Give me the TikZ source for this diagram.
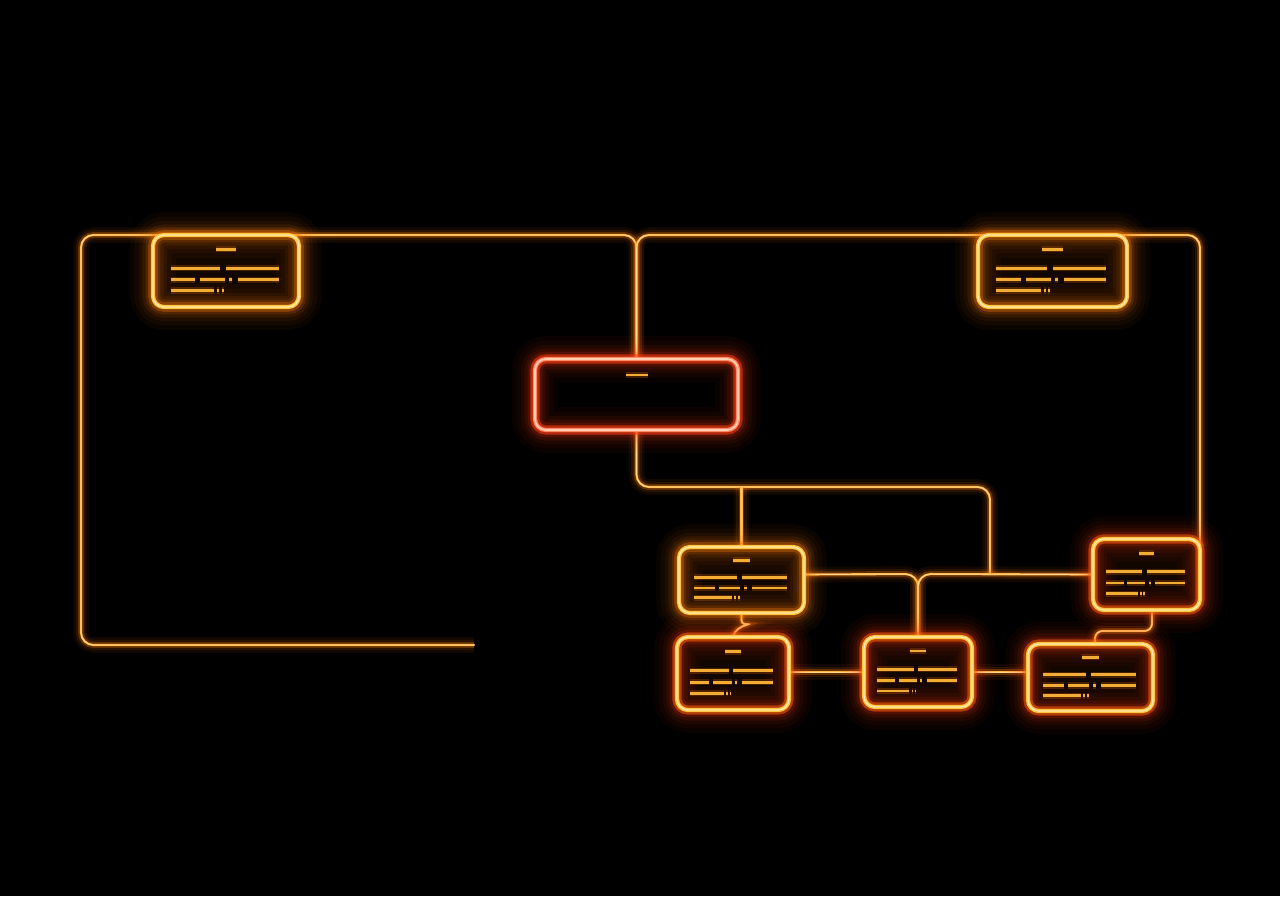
\documentclass[tikz,border=0pt]{standalone}
\usetikzlibrary{calc}
\pgfdeclarelayer{bg}
\pgfdeclarelayer{lines}
\pgfsetlayers{bg,lines,main}
\definecolor{lineC}{HTML}{FFB347}
\definecolor{lineW}{HTML}{FFD890}
\definecolor{glowO}{HTML}{FF7A00}
\definecolor{glowR}{HTML}{FF3A10}
\definecolor{coreY}{HTML}{FFC440}
\definecolor{coreW}{HTML}{FFE9B0}
\definecolor{coreR}{HTML}{FF8868}
\definecolor{coreRW}{HTML}{FFD0B0}
\definecolor{boxfill}{HTML}{120600}
\definecolor{txtC}{HTML}{F2AE34}
\newcommand\boxtext[3]{%
\begin{scope}[shift={(#1.north west)}]
 \draw[txt] ({0.43*#2},{0.2*#3}) -- ({0.57*#2},{0.2*#3})
  ({0.12*#2},{0.46*#3}) -- ({0.46*#2},{0.46*#3})
  ({0.50*#2},{0.46*#3}) -- ({0.86*#2},{0.46*#3})
  ({0.12*#2},{0.62*#3}) -- ({0.29*#2},{0.62*#3})
  ({0.32*#2},{0.62*#3}) -- ({0.49*#2},{0.62*#3})
  ({0.52*#2},{0.62*#3}) -- ({0.54*#2},{0.62*#3})
  ({0.58*#2},{0.62*#3}) -- ({0.86*#2},{0.62*#3})
  ({0.12*#2},{0.77*#3}) -- ({0.42*#2},{0.77*#3})
  ({0.44*#2},{0.77*#3}) -- ({0.455*#2},{0.77*#3})
  ({0.47*#2},{0.77*#3}) -- ({0.485*#2},{0.77*#3});
\end{scope}}
\begin{document}
\begin{tikzpicture}[x=0.02cm,y=-0.02cm,
  bsize/.style 2 args={minimum width={#1*0.02cm}, minimum height={#2*0.02cm}},
  conn/.style={draw=lineC, line width=1.2pt, line cap=round, rounded corners=0.25cm,
    preaction={draw=glowO, line width=9pt, opacity=0.06},
    preaction={draw=glowO, line width=6pt, opacity=0.10},
    preaction={draw=glowO, line width=3.4pt, opacity=0.28},
    postaction={draw=lineW, line width=0.5pt}},
  basebox/.style={rectangle, rounded corners=0.22cm, inner sep=0pt, outer sep=0pt},
  glowlayers/.style={
    preaction={draw=#1, line width=26pt, opacity=0.035},
    preaction={draw=#1, line width=21pt, opacity=0.045},
    preaction={draw=#1, line width=16pt, opacity=0.06},
    preaction={draw=#1, line width=12pt, opacity=0.09},
    preaction={draw=#1, line width=8.5pt, opacity=0.14},
    preaction={draw=#1, line width=5.5pt, opacity=0.3}},
  ybox/.style={basebox,
    preaction={fill=boxfill}, glowlayers=glowO,
    draw=coreY, line width=2.4pt,
    postaction={draw=coreW, line width=0.8pt}},
  rbox/.style={basebox,
    preaction={fill=boxfill}, glowlayers=glowR,
    preaction={draw=glowO, line width=5pt, opacity=0.35},
    draw=coreY, line width=2.4pt,
    postaction={draw=coreW, line width=0.8pt}},
  cbox/.style={basebox,
    preaction={fill=black}, glowlayers=glowR,
    preaction={draw=glowR, line width=5pt, opacity=0.4},
    draw=coreR, line width=2.4pt,
    postaction={draw=coreRW, line width=0.9pt}},
  txt/.style={draw=txtC, line width=1.6pt,
    preaction={draw=glowO, line width=3.5pt, opacity=0.22}}]

\begin{pgfonlayer}{bg}
\fill[black] (0,0) rectangle (1280,896);
\end{pgfonlayer}
\useasboundingbox (0,0) rectangle (1280,896);

% boxes
\node[ybox, bsize={146}{72}] (A) at (226,271) {};
\node[ybox, bsize={149}{72}] (B) at (1052.5,271) {};
\node[cbox, bsize={203}{71}] (C) at (636.5,394.5) {};
\node[ybox, bsize={125}{66}] (D) at (741.5,580) {};
\node[rbox, bsize={107}{71}] (E) at (1146.5,574.5) {};
\node[rbox, bsize={112}{73}] (F) at (733,673.5) {};
\node[rbox, bsize={108}{70}] (G) at (918,672) {};
\node[rbox, bsize={125}{67}] (H) at (1090.5,677.5) {};

% placeholder text lines
\boxtext{A}{146}{72}
\boxtext{B}{149}{72}
\boxtext{D}{125}{66}
\boxtext{E}{107}{71}
\boxtext{F}{112}{73}
\boxtext{G}{108}{70}
\boxtext{H}{125}{67}
\begin{scope}[shift={(C.north west)}]
\draw[txt] (91,16) -- (113,16);
\end{scope}

% connectors
\begin{pgfonlayer}{lines}
\coordinate (lend) at (474,645);
\coordinate (tj) at (636.5,235);
\coordinate (j1) at (990,574);
\coordinate (j2) at (741.5,487);
\coordinate (j3) at (918,574);
\draw[conn] (lend) -- (81,645) -- (81,235) -- (tj) -- (C.north);
\draw[conn] (C.north) -- (tj) -- (1200,235) -- ([yshift=-4pt]E.north east);
\draw[conn] (C.south) -- (636.5,487) -- (990,487) -- (j1);
\draw[conn] (j2) -- (D.north);
\draw[conn] (D.east |- E.west) -- (j3) -- (G.north);
\draw[conn] (G.north) -- (j3) -- (E.west);
\draw[conn, rounded corners=2pt] (D.south) -- (741.5,624) -- (750,624) .. controls (742,626) and (734,630) .. (F.north);
\draw[conn, rounded corners=0.15cm] ([xshift=0.11cm]E.south) -- (1152,631) -- (1095,631) -- ([xshift=0.09cm]H.north);
\draw[conn] (F.east |- G.west) -- (G.west);
\draw[conn] (G.east) -- (H.west |- G.east);
\end{pgfonlayer}
\end{tikzpicture}
\end{document}
